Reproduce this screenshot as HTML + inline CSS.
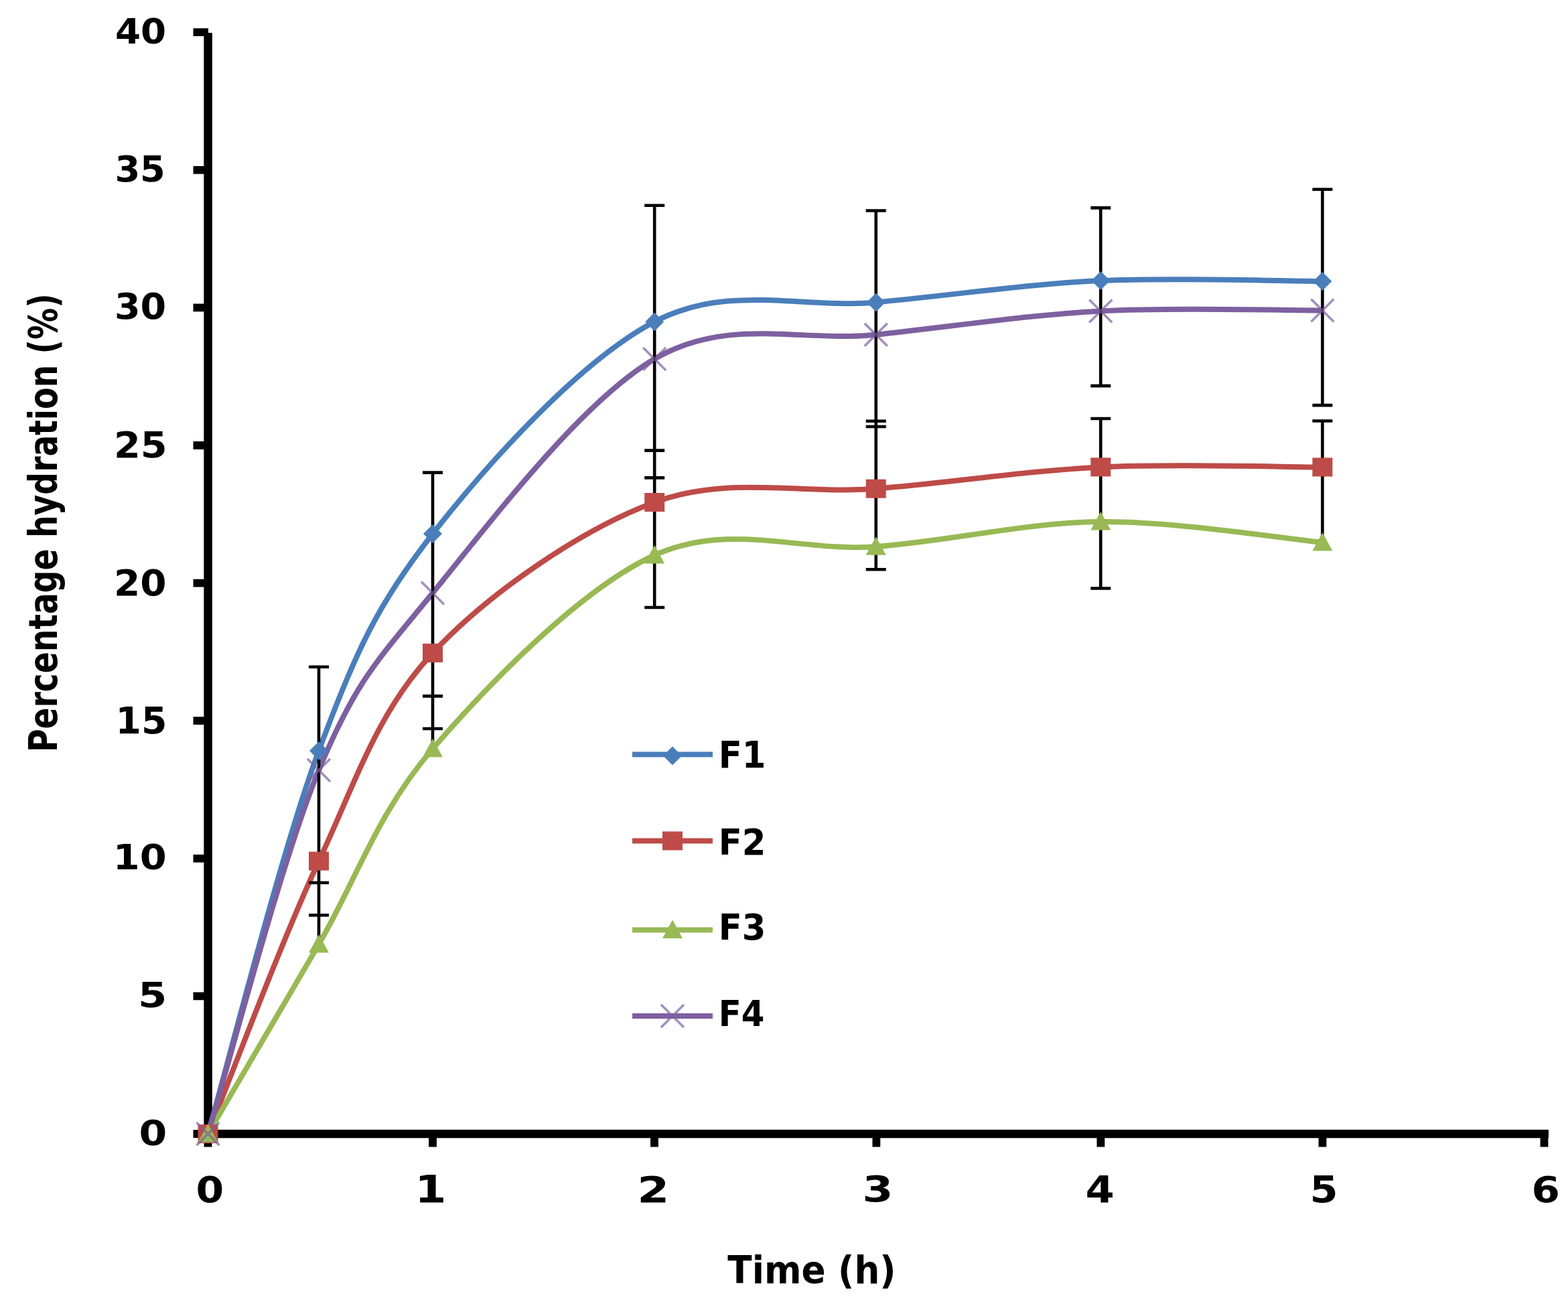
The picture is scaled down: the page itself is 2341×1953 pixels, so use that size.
<!DOCTYPE html><html><head><meta charset="utf-8"><style>html,body{margin:0;padding:0;background:#fff;width:2341px;height:1953px;overflow:hidden}svg{display:block}text{font-family:"DejaVu Sans Condensed","DejaVu Sans","Liberation Sans",sans-serif;font-stretch:condensed;font-weight:bold;fill:#000}</style></head><body>
<svg width="2341" height="1953" viewBox="0 0 2341 1953">
<rect width="2341" height="1953" fill="#fff"/>
<path d="M310.6,49 V1699 M304,1693 H2312" stroke="#000" stroke-width="12.5" fill="none"/>
<path d="M288.5,1693.0 H306 M288.5,1487.4 H306 M288.5,1281.8 H306 M288.5,1076.2 H306 M288.5,870.6 H306 M288.5,665.0 H306 M288.5,459.4 H306 M288.5,253.8 H306 M288.5,48.2 H311 M310.5,1698 V1712.5 M646.0,1698 V1712.5 M977.0,1698 V1712.5 M1308.4,1698 V1712.5 M1643.4,1698 V1712.5 M1974.5,1698 V1712.5 M2305.5,1698 V1712.5" stroke="#000" stroke-width="11.8" fill="none"/>
<path d="M310.5,1693.0 C338.1,1597.7 420.1,1270.3 476.0,1121.0 C531.9,971.7 562.5,903.8 646.0,797.0 C729.5,690.2 866.9,538.0 977.2,480.4 C1087.5,422.8 1196.8,461.6 1307.8,451.4 C1418.8,441.2 1532.2,424.3 1643.3,419.1 C1754.4,413.9 1919.2,419.9 1974.4,420.0" fill="none" stroke="#4A7EBB" stroke-width="8.0" stroke-linejoin="round"/>
<path d="M310.5,1693.0 C338.1,1625.1 420.1,1405.4 476.0,1285.7 C531.9,1166.0 562.5,1064.3 646.0,975.0 C729.5,885.7 866.9,790.9 977.2,750.0 C1087.5,709.1 1196.8,738.5 1307.8,729.7 C1418.8,720.9 1532.2,702.8 1643.3,697.4 C1754.4,692.0 1919.2,697.5 1974.4,697.5" fill="none" stroke="#BE4B48" stroke-width="8.0" stroke-linejoin="round"/>
<path d="M310.5,1693.0 C338.1,1645.8 420.1,1505.8 476.0,1410.0 C531.9,1314.2 562.5,1214.8 646.0,1118.0 C729.5,1021.2 866.9,879.3 977.2,829.0 C1087.5,778.7 1196.8,824.5 1307.8,816.2 C1418.8,807.9 1532.2,780.0 1643.3,779.0 C1754.4,778.0 1919.2,804.8 1974.4,810.0" fill="none" stroke="#98B954" stroke-width="8.0" stroke-linejoin="round"/>
<path d="M310.5,1693.0 C338.1,1602.5 420.1,1284.5 476.0,1149.9 C531.9,1015.3 562.5,987.7 646.0,885.4 C729.5,783.1 866.9,600.3 977.2,536.0 C1087.5,471.7 1196.8,511.6 1307.8,499.7 C1418.8,487.8 1532.2,470.4 1643.3,464.4 C1754.4,458.3 1919.2,463.6 1974.4,463.4" fill="none" stroke="#7D60A0" stroke-width="8.0" stroke-linejoin="round"/>
<path d="M476.0,995.7 V1404.0 M461.0,995.7 H491.0 M461.0,1318.0 H491.0 M461.0,1366.5 H491.0 M646.0,705.6 V1112.0 M631.0,705.6 H661.0 M631.0,1039.4 H661.0 M631.0,1088.0 H661.0 M977.2,306.7 V907.0 M962.2,306.7 H992.2 M962.2,672.6 H992.2 M962.2,713.4 H992.2 M962.2,907.0 H992.2 M1307.8,314.5 V850.3 M1292.8,314.5 H1322.8 M1292.8,628.8 H1322.8 M1292.8,637.0 H1322.8 M1292.8,850.3 H1322.8 M1643.3,310.4 V576.1 M1643.3,625.0 V878.5 M1628.3,310.4 H1658.3 M1628.3,576.1 H1658.3 M1628.3,625.0 H1658.3 M1628.3,878.5 H1658.3 M1974.4,282.7 V605.1 M1974.4,628.5 V805.0 M1959.4,282.7 H1989.4 M1959.4,605.1 H1989.4 M1959.4,628.5 H1989.4" stroke="#000" stroke-width="4.6" fill="none"/>
<path d="M310.5,1679.0 L324.5,1693.0 L310.5,1707.0 L296.5,1693.0 Z" fill="#4A7EBB"/>
<path d="M476.0,1107.0 L490.0,1121.0 L476.0,1135.0 L462.0,1121.0 Z" fill="#4A7EBB"/>
<path d="M646.0,783.0 L660.0,797.0 L646.0,811.0 L632.0,797.0 Z" fill="#4A7EBB"/>
<path d="M977.2,466.4 L991.2,480.4 L977.2,494.4 L963.2,480.4 Z" fill="#4A7EBB"/>
<path d="M1307.8,437.4 L1321.8,451.4 L1307.8,465.4 L1293.8,451.4 Z" fill="#4A7EBB"/>
<path d="M1643.3,405.1 L1657.3,419.1 L1643.3,433.1 L1629.3,419.1 Z" fill="#4A7EBB"/>
<path d="M1974.4,406.0 L1988.4,420.0 L1974.4,434.0 L1960.4,420.0 Z" fill="#4A7EBB"/>
<rect x="295.5" y="1679.0" width="30" height="28" fill="#BE4B48"/>
<rect x="461.0" y="1271.7" width="30" height="28" fill="#BE4B48"/>
<rect x="631.0" y="961.0" width="30" height="28" fill="#BE4B48"/>
<rect x="962.2" y="736.0" width="30" height="28" fill="#BE4B48"/>
<rect x="1292.8" y="715.7" width="30" height="28" fill="#BE4B48"/>
<rect x="1628.3" y="683.4" width="30" height="28" fill="#BE4B48"/>
<rect x="1959.4" y="683.5" width="30" height="28" fill="#BE4B48"/>
<path d="M310.5,1678.0 L325.5,1705.5 L295.5,1705.5 Z" fill="#98B954"/>
<path d="M476.0,1395.0 L491.0,1422.5 L461.0,1422.5 Z" fill="#98B954"/>
<path d="M646.0,1103.0 L661.0,1130.5 L631.0,1130.5 Z" fill="#98B954"/>
<path d="M977.2,814.0 L992.2,841.5 L962.2,841.5 Z" fill="#98B954"/>
<path d="M1307.8,801.2 L1322.8,828.7 L1292.8,828.7 Z" fill="#98B954"/>
<path d="M1643.3,764.0 L1658.3,791.5 L1628.3,791.5 Z" fill="#98B954"/>
<path d="M1974.4,795.0 L1989.4,822.5 L1959.4,822.5 Z" fill="#98B954"/>
<path d="M293.5,1676.0 L327.5,1710.0 M327.5,1676.0 L293.5,1710.0" stroke="#7D60A0" stroke-width="3.6" opacity="0.7"/>
<path d="M459.0,1132.9 L493.0,1166.9 M493.0,1132.9 L459.0,1166.9" stroke="#7D60A0" stroke-width="3.6" opacity="0.7"/>
<path d="M629.0,868.4 L663.0,902.4 M663.0,868.4 L629.0,902.4" stroke="#7D60A0" stroke-width="3.6" opacity="0.7"/>
<path d="M960.2,519.0 L994.2,553.0 M994.2,519.0 L960.2,553.0" stroke="#7D60A0" stroke-width="3.6" opacity="0.7"/>
<path d="M1290.8,482.7 L1324.8,516.7 M1324.8,482.7 L1290.8,516.7" stroke="#7D60A0" stroke-width="3.6" opacity="0.7"/>
<path d="M1626.3,447.4 L1660.3,481.4 M1660.3,447.4 L1626.3,481.4" stroke="#7D60A0" stroke-width="3.6" opacity="0.7"/>
<path d="M1957.4,446.4 L1991.4,480.4 M1991.4,446.4 L1957.4,480.4" stroke="#7D60A0" stroke-width="3.6" opacity="0.7"/>
<text x="207.50" y="1709.50" font-size="52.4" textLength="41.75" lengthAdjust="spacingAndGlyphs">0</text>
<text x="206.00" y="1504.10" font-size="51.8" textLength="43.33" lengthAdjust="spacingAndGlyphs">5</text>
<text x="168.70" y="1298.40" font-size="51.2" textLength="79.93" lengthAdjust="spacingAndGlyphs">10</text>
<text x="172.50" y="1094.80" font-size="54.9" textLength="76.78" lengthAdjust="spacingAndGlyphs">15</text>
<text x="169.90" y="888.70" font-size="53.6" textLength="78.59" lengthAdjust="spacingAndGlyphs">20</text>
<text x="169.90" y="682.60" font-size="53.6" textLength="79.72" lengthAdjust="spacingAndGlyphs">25</text>
<text x="171.00" y="476.20" font-size="52.8" textLength="77.23" lengthAdjust="spacingAndGlyphs">30</text>
<text x="171.40" y="271.30" font-size="52.9" textLength="75.44" lengthAdjust="spacingAndGlyphs">35</text>
<text x="172.00" y="65.40" font-size="52.4" textLength="76.14" lengthAdjust="spacingAndGlyphs">40</text>
<text x="292.50" y="1795.00" font-size="53.7" textLength="41.75" lengthAdjust="spacingAndGlyphs">0</text>
<text x="619.20" y="1796.00" font-size="56.5" textLength="47.27" lengthAdjust="spacingAndGlyphs">1</text>
<text x="951.20" y="1795.00" font-size="53.7" textLength="48.13" lengthAdjust="spacingAndGlyphs">2</text>
<text x="1287.40" y="1794.30" font-size="53.6" textLength="45.92" lengthAdjust="spacingAndGlyphs">3</text>
<text x="1620.40" y="1795.00" font-size="55.0" textLength="43.28" lengthAdjust="spacingAndGlyphs">4</text>
<text x="1955.50" y="1795.00" font-size="55.0" textLength="42.10" lengthAdjust="spacingAndGlyphs">5</text>
<text x="2286.50" y="1795.00" font-size="53.8" textLength="42.49" lengthAdjust="spacingAndGlyphs">6</text>
<text x="1086.30" y="1916.30" font-size="56.5" textLength="251.42" lengthAdjust="spacingAndGlyphs">Time (h)</text>
<text transform="translate(84.70,1123.00) rotate(-90)" font-size="58.0" textLength="684.80" lengthAdjust="spacingAndGlyphs">Percentage hydration (%)</text>
<text x="1072.80" y="1146.00" font-size="55.2" textLength="70.76" lengthAdjust="spacingAndGlyphs">F1</text>
<text x="1072.80" y="1275.70" font-size="53.4" textLength="70.70" lengthAdjust="spacingAndGlyphs">F2</text>
<text x="1072.80" y="1403.00" font-size="52.9" textLength="70.71" lengthAdjust="spacingAndGlyphs">F3</text>
<text x="1072.80" y="1531.80" font-size="52.8" textLength="68.62" lengthAdjust="spacingAndGlyphs">F4</text>
<path d="M944,1126.5 H1064" stroke="#4A7EBB" stroke-width="8.2"/>
<path d="M1004.0,1114.5 L1018.0,1128.5 L1004.0,1142.5 L990.0,1128.5 Z" fill="#4A7EBB"/>
<path d="M944,1255.5 H1064" stroke="#BE4B48" stroke-width="8.2"/>
<rect x="989.0" y="1241.5" width="30" height="28" fill="#BE4B48"/>
<path d="M944,1388.5 H1064" stroke="#98B954" stroke-width="8.2"/>
<path d="M1004.0,1373.5 L1019.0,1401.0 L989.0,1401.0 Z" fill="#98B954"/>
<path d="M944,1517.0 H1064" stroke="#7D60A0" stroke-width="8.2"/>
<path d="M987.0,1500.0 L1021.0,1534.0 M1021.0,1500.0 L987.0,1534.0" stroke="#7D60A0" stroke-width="3.6" opacity="0.7"/>
</svg></body></html>
